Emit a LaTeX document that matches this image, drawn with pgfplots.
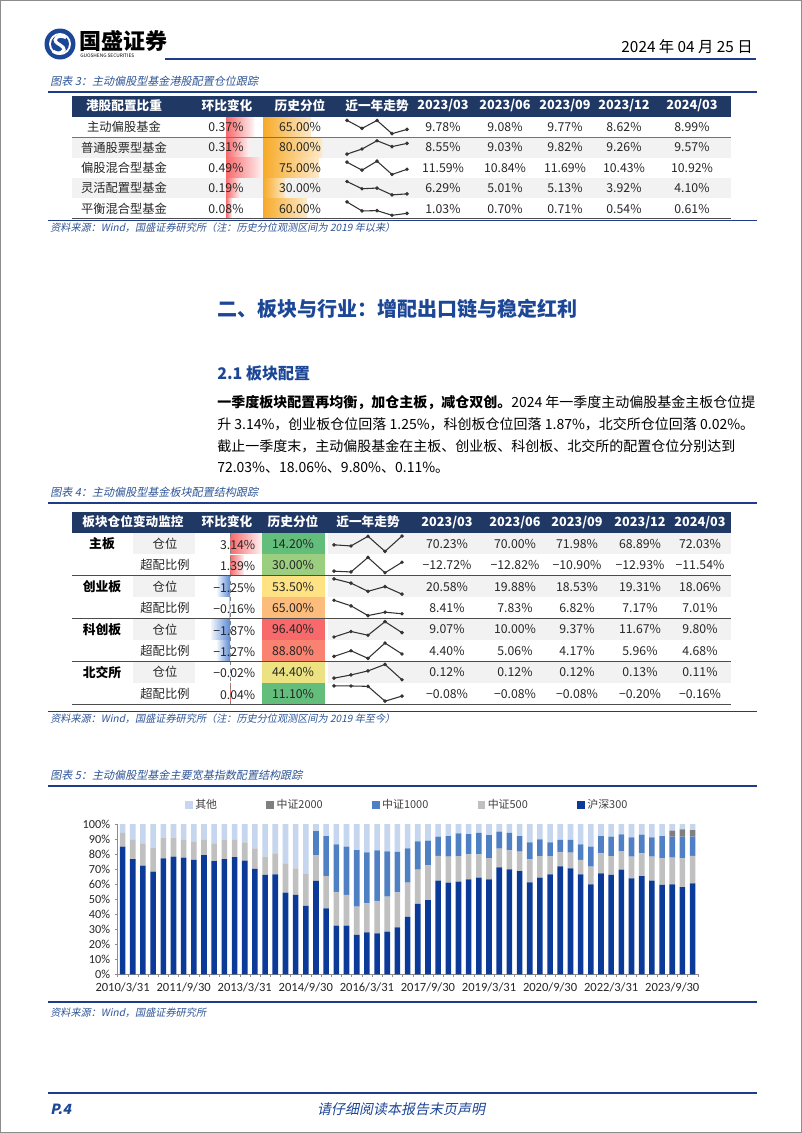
\documentclass[border=0pt]{standalone}
\usepackage{pgfplots}
\pgfplotsset{compat=1.18}
\usepackage{pgfplotstable}
\usepackage{fontspec}
\setmainfont{Noto Sans CJK SC}
\newfontfamily\capfont[FakeSlant=0.2]{Noto Sans CJK SC}
\newfontfamily\calib{Carlito}
\definecolor{navy}{RGB}{31,56,100}
\definecolor{capblue}{RGB}{47,85,151}
\definecolor{titleblue}{RGB}{28,70,150}
\definecolor{lineblue}{RGB}{31,60,136}
\definecolor{zebra}{RGB}{242,242,242}
\definecolor{hsblue}{RGB}{12,58,152}
\definecolor{zzfive}{RGB}{192,192,192}
\definecolor{zzthou}{RGB}{80,128,196}
\definecolor{zztwo}{RGB}{127,127,127}
\definecolor{zzoth}{RGB}{197,214,238}
\definecolor{barred}{RGB}{248,105,107}
\definecolor{barblue}{RGB}{90,138,214}
\definecolor{barorange}{RGB}{247,170,40}
\definecolor{sparkred}{RGB}{200,20,20}
\definecolor{pgreen}{RGB}{99,190,123}
\definecolor{plgreen}{RGB}{155,207,127}
\definecolor{pyellow}{RGB}{255,226,131}
\definecolor{porange}{RGB}{252,188,123}
\definecolor{pred}{RGB}{248,105,107}
\definecolor{predor}{RGB}{249,130,112}
\definecolor{pyelgr}{RGB}{236,226,130}

\pgfplotstableread{
x hs z5 z1 z2 ot
0 84.9 9.3 0 0 5.8
1 76.7 13.1 0 0 10.2
2 72.3 14.8 0 0 12.9
3 68.3 16.0 0 0 15.7
4 77.2 13.7 0 0 9.1
5 78.3 12.6 0 0 9.1
6 77.6 11.8 0 0 10.6
7 76.1 12.1 0 0 11.8
8 79.4 10.0 0 0 10.6
9 75.4 11.7 0 0 12.9
10 76.7 12.7 0 0 10.6
11 78.0 11.4 0 0 10.6
12 75.6 12.2 0 0 12.2
13 70.1 13.7 0 0 16.2
14 66.1 12.2 0 0 21.7
15 66.5 14.0 0 0 19.5
16 54.3 19.5 0 0 26.2
17 52.8 17.7 0 0 29.5
18 45.5 21.2 0 0 33.3
19 62.1 17.3 15.9 0 4.7
20 43.9 21.5 26.6 0 8.0
21 32.4 22.4 31.7 0 13.5
22 32.4 20.4 32.1 0 15.1
23 26.2 18.8 37.7 0 17.3
24 27.9 19.3 34.0 0 18.8
25 27.3 21.5 33.7 0 17.5
26 28.4 23.3 30.1 0 18.2
27 31.3 23.2 26.9 0 18.6
28 38.2 22.9 22.7 0 16.2
29 46.8 22.8 18.9 0 11.5
30 49.4 23.3 16.2 0 11.1
31 62.3 16.6 12.7 0 8.4
32 61.0 17.3 13.7 0 8.0
33 61.6 17.1 15.1 0 6.2
34 63.2 16.6 13.5 0 6.7
35 64.3 15.5 14.4 0 5.8
36 63.2 14.2 15.3 0 7.3
37 71.2 12.4 11.3 0 5.1
38 69.8 12.7 11.7 0 5.8
39 68.7 12.9 10.4 0 8.0
40 61.2 15.3 11.3 0 12.2
41 64.3 14.4 11.1 0 10.2
42 66.5 12.2 9.1 0 12.2
43 71.8 9.6 8.0 0 10.6
44 70.5 10.4 8.5 0 10.6
45 66.5 9.6 10.4 0 13.5
46 59.9 11.7 13.3 0 15.1
47 67.2 13.3 11.5 0 8.0
48 66.1 12.6 12.9 0 8.4
49 69.6 12.4 11.1 0 6.9
50 63.9 14.4 12.8 0 8.9
51 65.4 15.1 12.4 0 7.1
52 62.3 16.0 12.8 0 8.9
53 59.6 17.6 14.8 0 8.0
54 59.9 17.7 14.0 4.0 4.4
55 58.1 19.1 14.4 4.9 3.5
56 60.5 18.4 12.7 4.4 4.0
}\chartdata

\newcommand{\fs}[1]{\fontsize{#1}{#1}\selectfont}
\newcommand{\tl}[1]{\mbox{\calib\fs{9.4}#1}}
% sparkline: x, y (px), width, height, coords
\newcommand{\spark}[5]{%
\begin{axis}[at={({#1*0.75pt},{#2*0.75pt})},anchor=center,scale only axis,width=#3,height=#4,hide axis,enlargelimits=false,clip=false]
\addplot[black!80,line width=0.8pt,mark=*,mark size=0.9pt,mark options={fill=sparkred,draw=none}] coordinates {#5};
\end{axis}}
\newcommand{\Tthree}[6]{%
\node at (443,#1) {#2};\node at (505,#1) {#3};\node at (565,#1) {#4};\node at (624,#1) {#5};\node at (692,#1) {#6};}
\newcommand{\Tfour}[6]{%
\node at (447,#1) {#2};\node at (515,#1) {#3};\node at (577,#1) {#4};\node at (640,#1) {#5};\node at (700,#1) {#6};}

\begin{document}
\begin{tikzpicture}[x=0.75pt,y=0.75pt]
\useasboundingbox (0,0) rectangle (802,-1133);
\fill[white] (0,0) rectangle (802,-1133);
\draw[black!45,line width=0.6pt] (0.5,-0.5) rectangle (801.5,-1132.5);

% ---------- header ----------
\fill[titleblue] (60,-44) circle (15.5);
\fill[white] (60,-44) circle (11);
\fill[titleblue] (60,-44) circle (9);
\draw[white,line width=2.4pt] (66,-37.5) .. controls (58,-34) and (52,-39) .. (57,-43) .. controls (62,-46) and (67,-49) .. (62,-52) .. controls (59,-54) and (55,-53) .. (53,-51);
\node[anchor=west,inner sep=0] at (79,-41) {\fs{16.5}\bfseries 国盛证券};
\node[anchor=west,inner sep=0] at (80,-56) {\fs{3.6}GUOSHENG SECURITIES};
\node[anchor=east,inner sep=0] at (753,-47) {\fs{11.5}2024 年 04 月 25 日};
\draw[lineblue,line width=1.5pt] (165,-59) -- (756,-59);

% ---------- figure 3 ----------
\node[anchor=west,inner sep=0,text=capblue] at (50,-81) {\capfont\fs{8.3}图表 3：主动偏股型基金港股配置仓位跟踪};
\draw[lineblue,line width=1.1pt] (48,-92) -- (757,-92);
\fill[navy] (72,-96) rectangle (731,-116.5);
\begin{scope}[every node/.style={text=white,font=\fs{9.5}\bfseries}]
\node at (124,-106) {港股配置比重};
\node at (227,-106) {环比变化};
\node at (300,-106) {历史分位};
\node at (377,-106) {近一年走势};
\node at (443,-106) {2023/03};
\node at (505,-106) {2023/06};
\node at (565,-106) {2023/09};
\node at (624,-106) {2023/12};
\node at (692,-106) {2024/03};
\end{scope}
\fill[zebra] (72,-137.2) rectangle (731,-157.6);
\fill[zebra] (72,-178) rectangle (731,-198.4);
\shade[left color=barred,right color=barred!8] (226,-117) rectangle (254,-136.6);
\shade[left color=barred,right color=barred!8] (226,-137.4) rectangle (249,-157);
\shade[left color=barred,right color=barred!8] (226,-157.8) rectangle (263,-177.4);
\shade[left color=barred,right color=barred!8] (226,-178.2) rectangle (240,-197.8);
\shade[left color=barred,right color=barred!8] (226,-198.6) rectangle (232,-218);
\shade[left color=barorange,right color=barorange!25] (263,-117) rectangle (311,-136.6);
\shade[left color=barorange,right color=barorange!25] (263,-137.4) rectangle (322,-157);
\shade[left color=barorange,right color=barorange!25] (263,-157.8) rectangle (318.5,-177.4);
\shade[left color=barorange,right color=barorange!25] (263,-178.2) rectangle (285,-197.8);
\shade[left color=barorange,right color=barorange!25] (263,-198.6) rectangle (307,-218);
\draw[black!55,line width=0.6pt] (72,-137.2) -- (731,-137.2);
\draw[black!70,line width=0.7pt] (72,-218.4) -- (731,-218.4);
\begin{scope}[every node/.style={text=black!85,font=\fs{9.2}}]
\node at (124,-127) {主动偏股基金};
\node at (124,-147.4) {普通股票型基金};
\node at (124,-167.8) {偏股混合型基金};
\node at (124,-188.2) {灵活配置型基金};
\node at (124,-208.6) {平衡混合型基金};
\node at (226,-127) {0.37\%};
\node at (226,-147.4) {0.31\%};
\node at (226,-167.8) {0.49\%};
\node at (226,-188.2) {0.19\%};
\node at (226,-208.6) {0.08\%};
\node at (300,-127) {65.00\%};
\node at (300,-147.4) {80.00\%};
\node at (300,-167.8) {75.00\%};
\node at (300,-188.2) {30.00\%};
\node at (300,-208.6) {60.00\%};
\Tthree{-127}{9.78\%}{9.08\%}{9.77\%}{8.62\%}{8.99\%}
\Tthree{-147.4}{8.55\%}{9.03\%}{9.82\%}{9.26\%}{9.57\%}
\Tthree{-167.8}{11.59\%}{10.84\%}{11.69\%}{10.43\%}{10.92\%}
\Tthree{-188.2}{6.29\%}{5.01\%}{5.13\%}{3.92\%}{4.10\%}
\Tthree{-208.6}{1.03\%}{0.70\%}{0.71\%}{0.54\%}{0.61\%}
\end{scope}
\spark{377}{-127}{45pt}{10pt}{(0,9.78)(1,9.08)(2,9.77)(3,8.62)(4,8.99)}
\spark{377}{-147.4}{45pt}{10pt}{(0,8.55)(1,9.03)(2,9.82)(3,9.26)(4,9.57)}
\spark{377}{-167.8}{45pt}{10pt}{(0,11.59)(1,10.84)(2,11.69)(3,10.43)(4,10.92)}
\spark{377}{-188.2}{45pt}{10pt}{(0,6.29)(1,5.01)(2,5.13)(3,3.92)(4,4.10)}
\spark{377}{-208.6}{45pt}{10pt}{(0,1.03)(1,0.70)(2,0.71)(3,0.54)(4,0.61)}
\draw[lineblue,line width=0.8pt] (48,-220.5) -- (757,-220.5);
\node[anchor=west,inner sep=0,text=capblue] at (50,-228) {\capfont\fs{7.6}资料来源：Wind，国盛证券研究所（注：历史分位观测区间为 2019 年以来）};

% ---------- section text ----------
\node[anchor=west,inner sep=0,text=titleblue] at (217,-309) {\fs{15}\bfseries 二、板块与行业：增配出口链与稳定红利};
\node[anchor=west,inner sep=0,text=titleblue] at (217,-373) {\fs{12}\bfseries 2.1 板块配置};
\begin{scope}[every node/.style={anchor=west,inner sep=0,text=black,font=\fs{10.5}}]
\node at (217,-403) {\textbf{一季度板块配置再均衡，加仓主板，减仓双创。}2024 年一季度主动偏股基金主板仓位提};
\node at (217,-424.5) {升 3.14\%，创业板仓位回落 1.25\%，科创板仓位回落 1.87\%，北交所仓位回落 0.02\%。};
\node at (217,-446) {截止一季度末，主动偏股基金在主板、创业板、科创板、北交所的配置仓位分别达到};
\node at (217,-467.5) {72.03\%、18.06\%、9.80\%、0.11\%。};
\end{scope}

% ---------- figure 4 ----------
\node[anchor=west,inner sep=0,text=capblue] at (50,-492) {\capfont\fs{8.3}图表 4：主动偏股型基金板块配置结构跟踪};
\draw[lineblue,line width=1.1pt] (48,-503) -- (757,-503);
\fill[navy] (72,-511.5) rectangle (731,-533);
\begin{scope}[every node/.style={text=white,font=\fs{9.5}\bfseries}]
\node at (133,-522) {板块仓位变动监控};
\node at (227,-522) {环比变化};
\node at (293,-522) {历史分位};
\node at (368,-522) {近一年走势};
\node at (447,-522) {2023/03};
\node at (515,-522) {2023/06};
\node at (577,-522) {2023/09};
\node at (640,-522) {2023/12};
\node at (700,-522) {2024/03};
\end{scope}
\foreach \r in {0,2,4,6}{
 \fill[zebra] (133,{-533-21.4*\r}) rectangle (195,{-533-21.4*(\r+1)});
 \fill[zebra] (328,{-533-21.4*\r}) rectangle (731,{-533-21.4*(\r+1)});
}
\fill[pgreen] (262,-533) rectangle (325,-554.4);
\fill[plgreen] (262,-554.4) rectangle (325,-575.8);
\fill[pyellow] (262,-575.8) rectangle (325,-597.2);
\fill[porange] (262,-597.2) rectangle (325,-618.6);
\fill[pred] (262,-618.6) rectangle (325,-640);
\fill[predor] (262,-640) rectangle (325,-661.4);
\fill[pyelgr] (262,-661.4) rectangle (325,-682.8);
\fill[pgreen] (262,-682.8) rectangle (325,-704.2);
\shade[left color=barred,right color=barred!10] (230,-533.6) rectangle (261.4,-553.8);
\shade[left color=barred,right color=barred!10] (230,-555) rectangle (243.9,-575.2);
\shade[left color=barblue!10,right color=barblue] (217.5,-576.4) rectangle (230,-596.6);
\shade[left color=barblue!10,right color=barblue] (228.4,-597.8) rectangle (230,-618);
\shade[left color=barblue!10,right color=barblue] (211.3,-619.2) rectangle (230,-639.4);
\shade[left color=barblue!10,right color=barblue] (217.3,-640.6) rectangle (230,-660.8);
\shade[left color=barblue!10,right color=barblue] (229.6,-662) rectangle (230,-682.2);
\shade[left color=barred,right color=barred!10] (230,-683.4) rectangle (231,-703.6);
\draw[black!50,dashed,line width=0.5pt] (230,-533) -- (230,-704.2);
\draw[black!70,line width=0.7pt] (72,-575.8) -- (731,-575.8);
\draw[black!70,line width=0.7pt] (72,-618.6) -- (731,-618.6);
\draw[black!70,line width=0.7pt] (72,-661.4) -- (731,-661.4);
\draw[black!70,line width=0.7pt] (72,-704.2) -- (731,-704.2);
\begin{scope}[every node/.style={text=black!85,font=\fs{9.2}}]
\node[font=\fs{9.6}\bfseries,text=black] at (102,-543.7) {主板};
\node[font=\fs{9.6}\bfseries,text=black] at (102,-586.5) {创业板};
\node[font=\fs{9.6}\bfseries,text=black] at (102,-629.3) {科创板};
\node[font=\fs{9.6}\bfseries,text=black] at (102,-672.1) {北交所};
\node at (165,-543.7) {仓位};
\node at (165,-565.1) {超配比例};
\node at (165,-586.5) {仓位};
\node at (165,-607.9) {超配比例};
\node at (165,-629.3) {仓位};
\node at (165,-650.7) {超配比例};
\node at (165,-672.1) {仓位};
\node at (165,-693.5) {超配比例};
\node[anchor=east] at (260,-545) {3.14\%};
\node[anchor=east] at (260,-566.4) {1.39\%};
\node[anchor=east] at (260,-587.8) {−1.25\%};
\node[anchor=east] at (260,-609.2) {−0.16\%};
\node[anchor=east] at (260,-630.6) {−1.87\%};
\node[anchor=east] at (260,-652) {−1.27\%};
\node[anchor=east] at (260,-673.4) {−0.02\%};
\node[anchor=east] at (260,-694.8) {0.04\%};
\node at (293,-543.7) {14.20\%};
\node at (293,-565.1) {30.00\%};
\node at (293,-586.5) {53.50\%};
\node at (293,-607.9) {65.00\%};
\node at (293,-629.3) {96.40\%};
\node at (293,-650.7) {88.80\%};
\node at (293,-672.1) {44.40\%};
\node at (293,-693.5) {11.10\%};
\Tfour{-543.7}{70.23\%}{70.00\%}{71.98\%}{68.89\%}{72.03\%}
\Tfour{-565.1}{−12.72\%}{−12.82\%}{−10.90\%}{−12.93\%}{−11.54\%}
\Tfour{-586.5}{20.58\%}{19.88\%}{18.53\%}{19.31\%}{18.06\%}
\Tfour{-607.9}{8.41\%}{7.83\%}{6.82\%}{7.17\%}{7.01\%}
\Tfour{-629.3}{9.07\%}{10.00\%}{9.37\%}{11.67\%}{9.80\%}
\Tfour{-650.7}{4.40\%}{5.06\%}{4.17\%}{5.96\%}{4.68\%}
\Tfour{-672.1}{0.12\%}{0.12\%}{0.12\%}{0.13\%}{0.11\%}
\Tfour{-693.5}{−0.08\%}{−0.08\%}{−0.08\%}{−0.20\%}{−0.16\%}
\end{scope}
\spark{368}{-543.7}{51pt}{11.5pt}{(0,70.23)(1,70.00)(2,71.98)(3,68.89)(4,72.03)}
\spark{368}{-565.1}{51pt}{11.5pt}{(0,-12.72)(1,-12.82)(2,-10.90)(3,-12.93)(4,-11.54)}
\spark{368}{-586.5}{51pt}{11.5pt}{(0,20.58)(1,19.88)(2,18.53)(3,19.31)(4,18.06)}
\spark{368}{-607.9}{51pt}{11.5pt}{(0,8.41)(1,7.83)(2,6.82)(3,7.17)(4,7.01)}
\spark{368}{-629.3}{51pt}{11.5pt}{(0,9.07)(1,10.00)(2,9.37)(3,11.67)(4,9.80)}
\spark{368}{-650.7}{51pt}{11.5pt}{(0,4.40)(1,5.06)(2,4.17)(3,5.96)(4,4.68)}
\spark{368}{-672.1}{51pt}{11.5pt}{(0,0.115)(1,0.119)(2,0.124)(3,0.132)(4,0.113)}
\spark{368}{-693.5}{51pt}{11.5pt}{(0,-0.08)(1,-0.081)(2,-0.084)(3,-0.20)(4,-0.16)}
\draw[lineblue,line width=0.8pt] (48,-711.5) -- (757,-711.5);
\node[anchor=west,inner sep=0,text=capblue] at (50,-719) {\capfont\fs{7.6}资料来源：Wind，国盛证券研究所（注：历史分位观测区间为 2019 年至今）};

% ---------- figure 5 ----------
\node[anchor=west,inner sep=0,text=capblue] at (50,-775) {\capfont\fs{8.3}图表 5：主动偏股型基金主要宽基指数配置结构跟踪};
\draw[lineblue,line width=1.1pt] (48,-786) -- (757,-786);
\begin{axis}[
  at={({117.5*0.75pt},{-974.3*0.75pt})}, anchor=south west, scale only axis,
  width=435.15pt, height=112.7pt,
  ybar stacked, bar width=4.2pt,
  xmin=-0.5, xmax=56.5, ymin=0, ymax=100,
  axis lines*=left, axis line style={draw=black!45,line width=0.5pt},
  tick align=outside, major tick length=2pt,
  /pgf/number format/assume math mode=true,
  ytick={0,10,...,100},
  yticklabel={\mbox{\calib\fs{9.2}\pgfmathprintnumber{\tick}\%}},
  yticklabel style={text=black!85},
  ytick style={draw=black!45},
  xtick={-0.5,0.5,...,56.5}, xticklabels={},
  xtick style={draw=black!45},
  extra x ticks={0,6,...,54},
  extra x tick labels={\tl{2010/3/31},\tl{2011/9/30},\tl{2013/3/31},\tl{2014/9/30},\tl{2016/3/31},\tl{2017/9/30},\tl{2019/3/31},\tl{2020/9/30},\tl{2022/3/31},\tl{2023/9/30}},
  extra x tick style={major tick length=0pt,xticklabel style={text=black!85,yshift=-3pt}},
  legend style={at={(0.5,1.128)},anchor=center,draw=none,fill=none,font=\fs{8.2},text=black!75,
     /tikz/every even column/.append style={column sep=35pt}},
  legend columns=5, reverse legend,
  legend image code/.code={\fill[#1] (0pt,-2.8pt) rectangle (5.6pt,2.8pt);},
]
\addplot[fill=hsblue,draw=none] table[x=x,y=hs] {\chartdata};
\addlegendentry{沪深300}
\addplot[fill=zzfive,draw=none] table[x=x,y=z5] {\chartdata};
\addlegendentry{中证500}
\addplot[fill=zzthou,draw=none] table[x=x,y=z1] {\chartdata};
\addlegendentry{中证1000}
\addplot[fill=zztwo,draw=none] table[x=x,y=z2] {\chartdata};
\addlegendentry{中证2000}
\addplot[fill=zzoth,draw=none] table[x=x,y=ot] {\chartdata};
\addlegendentry{其他}
\end{axis}
\draw[lineblue,line width=0.8pt] (48,-1002) -- (757,-1002);
\node[anchor=west,inner sep=0,text=capblue] at (50,-1013) {\capfont\fs{7.6}资料来源：Wind，国盛证券研究所};

% ---------- footer ----------
\draw[lineblue,line width=1.6pt] (48,-1093) -- (757,-1093);
\node[anchor=west,inner sep=0,text=titleblue] at (50,-1109) {\capfont\fs{10.5}\bfseries P.4};
\node[inner sep=0,text=titleblue] at (401,-1109) {\capfont\fs{10.5}请仔细阅读本报告末页声明};
\end{tikzpicture}
\end{document}
